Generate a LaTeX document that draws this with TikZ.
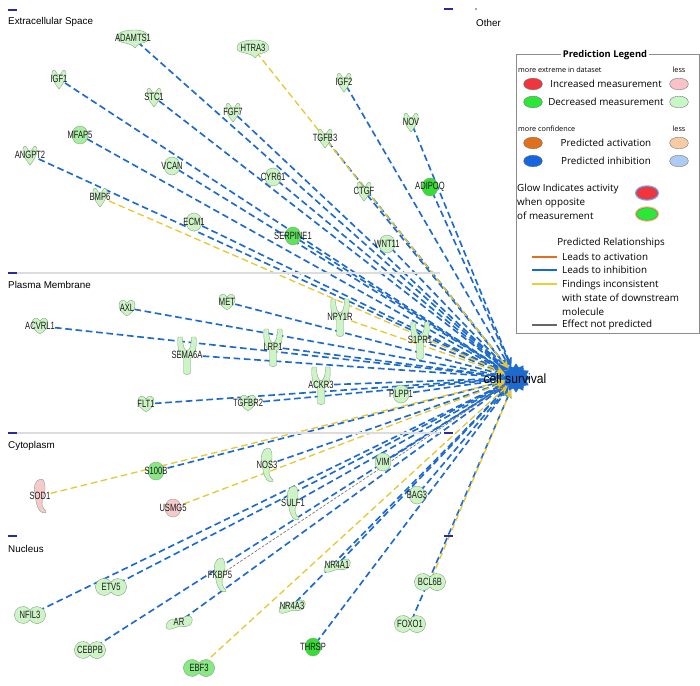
\documentclass[tikz,border=0pt]{standalone}
\usepackage{fontspec}
\setmainfont{Liberation Sans}
\newfontfamily\legfont{Open Sans}
\usetikzlibrary{positioning,arrows.meta,shapes.geometric,backgrounds}
\definecolor{ipablue}{HTML}{1E6BD0}
\definecolor{ipayellow}{HTML}{E6C834}
\definecolor{ipagrey}{HTML}{7C706B}
\definecolor{molgreen}{HTML}{CDF3C6}
\definecolor{moledge}{HTML}{7FA27A}
\definecolor{palegreen}{HTML}{A7EEA2}
\definecolor{midgreen}{HTML}{87E884}
\definecolor{deepgreen}{HTML}{62E05F}
\definecolor{brightgreen}{HTML}{37DC37}
\definecolor{molpink}{HTML}{F6CACA}
\definecolor{hdrnavy}{HTML}{2A2A9A}
\definecolor{sepgrey}{HTML}{DCDCDC}
\definecolor{legred}{HTML}{F0353D}
\definecolor{legpink}{HTML}{F9C2C6}
\definecolor{leggreen}{HTML}{2CE638}
\definecolor{leglgreen}{HTML}{C8F7C5}
\definecolor{legorange}{HTML}{E0701C}
\definecolor{leglorange}{HTML}{F7CBA3}
\definecolor{legblue}{HTML}{1666E0}
\definecolor{leglblue}{HTML}{ADCBF3}
\definecolor{legyellow}{HTML}{E8CE3A}
\newcommand\nar[1]{\scalebox{0.72}[1]{#1}}

\begin{document}
\begin{tikzpicture}[x=0.3mm,y=-0.3mm,
  lab/.style={font=\fontsize{9}{10}\selectfont,inner sep=0pt,text=black!90},
  hdr/.style={font=\fontsize{8.4}{10}\selectfont,anchor=west,inner sep=0pt},
  glyph/.style={draw=moledge,line width=0.3pt},
  hdrmark/.style={draw=hdrnavy,line width=0.55mm},
  sep/.style={draw=sepgrey,line width=0.5mm},
  inh/.style={draw=ipablue,line width=0.5mm,dash pattern=on 2mm off 1.1mm,-{Stealth[length=2.6mm,width=2.4mm]}},
  inc/.style={draw=ipayellow,line width=0.4mm,dash pattern=on 2mm off 1.1mm,-{Stealth[length=2.6mm,width=2.4mm]}},
  np/.style={draw=ipagrey,line width=0.2mm,dash pattern=on 0.8mm off 0.5mm,-{Stealth[length=1.6mm]}},
  legs/.style={font=\legfont\fontsize{6.2}{7}\selectfont,inner sep=0pt},
  legt/.style={font=\legfont\fontsize{8.4}{12.2}\selectfont,inner sep=0pt},
  lego/.style={ellipse,draw=black!55,line width=0.3pt,minimum width=5.6mm,minimum height=3.5mm,inner sep=0pt},
  pics/pep/.style={code={\filldraw[glyph,fill=#1] (-16,0) .. controls (-16,-7) and (-5,-8) .. (2,-8)
     .. controls (10,-8) and (16,-5) .. (16,0) .. controls (16,4) and (10,5) .. (6,6)
     .. controls (4,7) and (3,9) .. (2,10) .. controls (0,7) and (-4,6) .. (-8,5)
     .. controls (-13,4) and (-16,3) .. (-16,0) -- cycle;}},
  pics/gf/.style={code={\filldraw[glyph,fill=#1] (0,10) .. controls (-3,6) and (-7,2) .. (-7,-6)
     .. controls (-7,-9) and (-4,-10) .. (-3,-7) .. controls (-2,-5) and (-1,-4) .. (0,-4)
     .. controls (1,-4) and (2,-5) .. (3,-7) .. controls (4,-10) and (7,-9) .. (7,-6)
     .. controls (7,2) and (3,6) .. (0,10) -- cycle;}},
  pics/kin/.style={code={\filldraw[glyph,fill=#1] (0,8) .. controls (-6,4) and (-8,1) .. (-8,-3)
     .. controls (-8,-9) and (-2,-9) .. (0,-5) .. controls (2,-9) and (8,-9) .. (8,-3)
     .. controls (8,1) and (6,4) .. (0,8) -- cycle;}},
  pics/rec/.style={code={\filldraw[glyph,fill=#1] (-3.5,18) -- (-3.5,3) .. controls (-8,1) and (-10,-7) .. (-9,-18)
     -- (-4.5,-18) .. controls (-4.5,-10) and (-3,-5) .. (0,-4) .. controls (3,-5) and (4.5,-10) .. (4.5,-18)
     -- (9,-18) .. controls (10,-7) and (8,1) .. (3.5,3) -- (3.5,18) .. controls (2,20) and (-2,20) .. (-3.5,18) -- cycle;}},
  pics/enz/.style={code={\filldraw[glyph,fill=#1] (1,-17) .. controls (-5,-17) and (-7,-8) .. (-5,-1)
     .. controls (-4,4) and (-4,10) .. (0,15) .. controls (3,18) and (7,17) .. (6,15)
     .. controls (2,12) and (1,7) .. (3,2) .. controls (6,-5) and (6,-17) .. (1,-17) -- cycle;}},
  pics/cir/.style={code={\filldraw[glyph,fill=#1] (0,0) ellipse [x radius=8,y radius=9];}},
  pics/tr/.style={code={\filldraw[glyph,fill=#1] (0,-4.82) arc[start angle=-34.6,end angle=-325.4,radius=8.5]
     arc[start angle=145.4,end angle=-145.4,radius=8.5] -- cycle;}},
  pics/lnr/.style={code={\filldraw[glyph,fill=#1] (-13,5) .. controls (-13,0) and (-9,-4) .. (-3,-3)
     .. controls (2,-2) and (6,-7) .. (11,-6) .. controls (14,-5) and (14,0) .. (11,3)
     .. controls (7,6) and (3,3) .. (-2,5) .. controls (-6,7) and (-13,9) .. (-13,5) -- cycle;}}]
\useasboundingbox (0,0) rectangle (700,685);

% compartments
\draw[sep] (8,273) -- (440,273);
\draw[sep] (8,433) -- (440,433);
\draw[hdrmark] (8,10) -- (17,10);
\draw[hdrmark] (8,273) -- (17,273);
\draw[hdrmark] (8,433) -- (17,433);
\draw[hdrmark] (8,536) -- (17,536);
\draw[hdrmark] (444,9) -- (453,9);
\draw[hdrmark] (444,433) -- (453,433);
\draw[hdrmark] (444,536) -- (453,536);
\fill[black!70] (476,9) circle (0.8);
\node[hdr] (ecs) at (8,22) {Extracellular Space};
\node[hdr] (other) at (476,23) {Other};
\node[hdr] (pm) at (8,285) {Plasma Membrane};
\node[hdr] (cyto) at (8,446) {Cytoplasm};
\node[hdr] (nuc) at (8,549) {Nucleus};

% molecules
\foreach \mx/\my/\mn/\mt/\mc in {133/38/adamts/ADAMTS1/molgreen,253/48/htra/HTRA3/molgreen}
  {\pic at (\mx,\my) {pep=\mc}; \node[lab] (\mn) at (\mx,\my) {\nar{\mt}};}
\foreach \mx/\my/\mn/\mt/\mc in {59/79/igfa/IGF1/molgreen,154/97/stc/STC1/molgreen,233/112/fgf/FGF7/molgreen,
    344/82/igfb/IGF2/molgreen,411/122/nov/NOV/molgreen,325/138/tgfb/TGFB3/molgreen,30/155/angpt/ANGPT2/molgreen,
    364/191/ctgf/CTGF/molgreen,100/197/bmp/BMP6/molgreen}
  {\pic at (\mx,\my) {gf=\mc}; \node[lab] (\mn) at (\mx,\my) {\nar{\mt}};}
\foreach \mx/\my/\mn/\mt/\mc in {80/135/mfap/MFAP5/palegreen,172/166/vcan/VCAN/molgreen,273/177/cyr/CYR61/molgreen,
    430/187/adipoq/ADIPOQ/brightgreen,194/222/ecm/ECM1/molgreen,293/236/serpine/SERPINE1/deepgreen,
    387/244/wnt/WNT11/molgreen,401/394/plpp/PLPP1/molgreen,156/471/s100/S100B/midgreen,173/508/usmg/USMG5/molpink,
    383/462/vim/VIM/molgreen,417/495/bag/BAG3/molgreen,313/647/thrsp/THRSP/brightgreen}
  {\pic at (\mx,\my) {cir=\mc}; \node[lab] (\mn) at (\mx,\my) {\nar{\mt}};}
\foreach \mx/\my/\mn/\mt/\mc in {127/308/axl/AXL/molgreen,227/302/met/MET/molgreen,40/326/acvrl/ACVRL1/molgreen,
    146/404/flt/FLT1/molgreen,248/403/tgfbr/TGFBR2/molgreen}
  {\pic at (\mx,\my) {kin=\mc}; \node[lab] (\mn) at (\mx,\my) {\nar{\mt}};}
\foreach \mx/\my/\mn/\mt/\mc in {340/317/npy/NPY1R/molgreen,273/347/lrp/LRP1/molgreen,420/340/sipr/S1PR1/molgreen,
    187/355/sema/SEMA6A/molgreen,321/385/ackr/ACKR3/molgreen}
  {\pic at (\mx,\my) {rec=\mc}; \node[lab] (\mn) at (\mx,\my) {\nar{\mt}};}
\foreach \mx/\my/\mn/\mt/\mc in {40/496/sod/SOD1/molpink,267/465/nos/NOS3/molgreen,293/503/sulf/SULF1/molgreen,
    220/575/fkbp/FKBP5/molgreen}
  {\pic at (\mx,\my) {enz=\mc}; \node[lab] (\mn) at (\mx,\my) {\nar{\mt}};}
\foreach \mx/\my/\mn/\mt/\mc in {30/615/nfil/NFIL3/molgreen,111/587/etv/ETV5/molgreen,90/650/cebpb/CEBPB/molgreen,
    199/668/ebf/EBF3/midgreen,430/582/bcl/BCL6B/molgreen,410/624/foxo/FOXO1/molgreen}
  {\pic at (\mx,\my) {tr=\mc}; \node[lab] (\mn) at (\mx,\my) {\nar{\mt}};}
\foreach \mx/\my/\mn/\mt/\mc in {179/622/ar/AR/molgreen,337/565/nra/NR4A1/molgreen,292/606/nrc/NR4A3/molgreen}
  {\pic at (\mx,\my) {lnr=\mc}; \node[lab] (\mn) at (\mx,\my) {\nar{\mt}};}

% cell survival
\node[star,star points=12,star point ratio=1.35,fill=ipablue,draw=ipablue,minimum size=8.5mm,inner sep=0pt] (cs) at (516,378) {};
\node[font=\fontsize{11.5}{12}\selectfont,inner sep=0pt] (cslab) at (515,379) {\scalebox{0.9}[1]{cell survival}};

\begin{scope}[on background layer]
\foreach \m in {adamts,igfa,stc,fgf,igfb,nov,tgfb,mfap,angpt,vcan,cyr,ctgf,adipoq,ecm,serpine,wnt,
    axl,met,acvrl,lrp,sipr,sema,ackr,plpp,flt,tgfbr,s100,nos,vim,sulf,bag,
    nfil,etv,cebpb,ar,nra,nrc,thrsp,foxo}
  \draw[inh] (\m) -- (cs);
\foreach \m in {htra,bmp,npy,sod,usmg,ebf,bcl}
  \draw[inc] (\m) -- (cs);
\draw[np] (fkbp) -- (cs);
\end{scope}

% legend
\draw[black!45,line width=0.4pt] (516,54) rectangle (699,333);
\node[fill=white,inner sep=1.5pt,font=\legfont\bfseries\fontsize{8}{9}\selectfont] (legtitle) at (605,55) {Prediction Legend};
\node[legs,anchor=west] (extreme) at (518,70) {more extreme in dataset};
\node[legs] (lessa) at (679,70) {less};
\node[lego,fill=legred] (incdark) at (533,84) {};
\node[legt] (inctxt) at (606,84) {Increased measurement};
\node[lego,fill=legpink] (inclight) at (679,84) {};
\node[lego,fill=leggreen] (decdark) at (533,102) {};
\node[legt] (dectxt) at (606,102) {Decreased measurement};
\node[lego,fill=leglgreen] (declight) at (679,102) {};
\node[legs,anchor=west] (confid) at (518,129) {more confidence};
\node[legs] (lessb) at (679,129) {less};
\node[lego,fill=legorange] (actdark) at (533,143) {};
\node[legt] (acttxt) at (606,143) {Predicted activation};
\node[lego,fill=leglorange] (actlight) at (679,143) {};
\node[lego,fill=legblue] (inhdark) at (533,161) {};
\node[legt] (inhtxt) at (606,161) {Predicted inhibition};
\node[lego,fill=leglblue] (inhlight) at (679,161) {};
\node[legt,anchor=west,align=left] (glowtxt) at (517,202) {Glow Indicates activity\\when opposite\\of measurement};
\node[lego,fill=legred,minimum width=6.4mm,minimum height=3.8mm,preaction={draw=leglblue!80!blue,line width=2.4pt}] (glowred) at (647,193) {};
\node[lego,fill=leggreen,minimum width=6.4mm,minimum height=3.8mm,preaction={draw=leglorange!80!orange,line width=2.4pt}] (glowgreen) at (647,214) {};
\node[legt] (relhead) at (611,243) {Predicted Relationships};
\draw[legorange,line width=1pt] (532,257) -- (557,257);
\draw[legblue,line width=1pt] (532,270) -- (557,270);
\draw[legyellow,line width=1pt] (532,284) -- (557,284);
\draw[black!60,line width=1pt] (532,325) -- (557,325);
\node[legt,anchor=west] (acttype) at (562,257) {Leads to activation};
\node[legt,anchor=west] (inhtype) at (562,270) {Leads to inhibition};
\node[legt,anchor=west,align=left] (inctype) at (562,298) {Findings inconsistent\\with state of downstream\\molecule};
\node[legt,anchor=west] (nptype) at (562,325) {Effect not predicted};
\end{tikzpicture}
\end{document}
